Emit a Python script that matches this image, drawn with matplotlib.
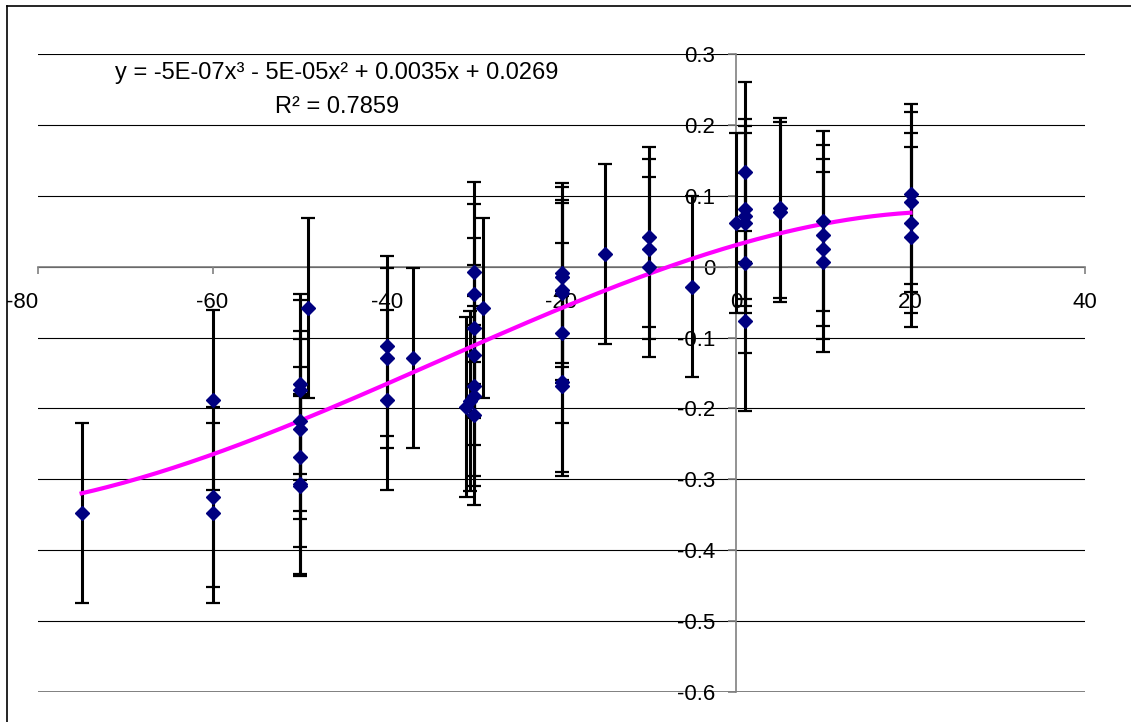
import matplotlib
matplotlib.use('Agg')
import matplotlib.pyplot as plt
from matplotlib.lines import Line2D
import numpy as np

plt.rcParams['font.family'] = ['Liberation Sans', 'DejaVu Sans']
plt.rcParams['axes.unicode_minus'] = False

# data
x = [-75,
     -60, -60, -60,
     -50, -50, -50, -50, -50, -50, -50,
     -49,
     -40, -40, -40,
     -37,
     -31, -30.5, -30, -30, -30, -30, -30, -30, -30,
     -29,
     -20, -20, -20, -20, -20, -20, -20,
     -15,
     -10, -10, -10,
     -5,
     0,
     1, 1, 1, 1, 1, 1,
     5, 5,
     10, 10, 10, 10,
     20, 20, 20, 20]
y = [-0.347,
     -0.188, -0.325, -0.347,
     -0.166, -0.174, -0.218, -0.229, -0.268, -0.306, -0.31,
     -0.058,
     -0.112, -0.129, -0.188,
     -0.129,
     -0.198, -0.19, -0.008, -0.038, -0.087, -0.125, -0.168, -0.183, -0.209,
     -0.058,
     -0.009, -0.014, -0.033, -0.037, -0.094, -0.162, -0.169,
     0.018,
     0.042, 0.025, -0.001,
     -0.028,
     0.061,
     0.133, 0.081, 0.071, 0.062, 0.005, -0.077,
     0.083, 0.077,
     0.064, 0.044, 0.025, 0.006,
     0.102, 0.091, 0.061, 0.042]
err = 0.127

# trendline as drawn in the picture
trend_x = [-75, -60, -50, -40, -30, -20, -10, 0, 10, 20]
trend_y = [-0.320, -0.264, -0.218, -0.164, -0.115, -0.055, -0.010, 0.029, 0.061, 0.076]

xticks = [-80, -60, -40, -20, 0, 20, 40]
yticks = [-0.6, -0.5, -0.4, -0.3, -0.2, -0.1, 0, 0.1, 0.2, 0.3]
ytick_labels = ['-0.6', '-0.5', '-0.4', '-0.3', '-0.2', '-0.1', '0', '0.1', '0.2', '0.3']
eq_line = 'y = -5E-07x\u00b3 - 5E-05x\u00b2 + 0.0035x + 0.0269'
r2_line = 'R\u00b2 = 0.7859'

W, H = 1131, 722
fig = plt.figure(figsize=(W / 100, H / 100), dpi=100)
ax = fig.add_axes([38 / W, 1 - 692 / H, (1085 - 38) / W, (692 - 54) / H])

ax.set_xlim(-80, 40)
ax.set_ylim(-0.6, 0.3)

# gridlines
for yt in yticks:
    c = '#808080' if yt == -0.6 else 'black'
    ax.axhline(yt, color=c, lw=0.8 if yt != -0.6 else 1.4, zorder=1)

ax.errorbar(x, y, yerr=err, fmt='none', ecolor='black', elinewidth=2.2,
            capsize=5, capthick=1.6, zorder=3)

coef = np.polyfit(trend_x, trend_y, 3)
xs = np.linspace(min(x), max(x), 200)
ax.plot(xs, np.polyval(coef, xs), color='#ff00ff', lw=3, zorder=4)

ax.plot(x, y, 'D', color='#000080', ms=7, mec='#000080', zorder=5, linestyle='none')

ax.spines['left'].set_position(('data', 0))
ax.spines['bottom'].set_position(('data', 0))
ax.spines['top'].set_visible(False)
ax.spines['right'].set_visible(False)
for s in ['left', 'bottom']:
    ax.spines[s].set_color('#808080')
    ax.spines[s].set_linewidth(1.2)
    ax.spines[s].set_zorder(2)

ax.set_xticks(xticks)
ax.set_xticklabels([str(v) for v in xticks])
ax.set_yticks(yticks)
ax.set_yticklabels(ytick_labels)
ax.tick_params(axis='x', direction='out', length=5, width=1.2, color='#808080',
               pad=13, labelsize=16)
ax.tick_params(axis='y', direction='out', length=6, width=1.2, color='#808080',
               pad=9, labelsize=16)
ax.get_xticklabels()[0].set_horizontalalignment('right')
ax.patch.set_alpha(0)

ax.text(337 / W, 1 - 73 / H, eq_line, transform=fig.transFigure, ha='center',
        va='center', fontsize=17)
ax.text(337 / W, 1 - 107 / H, r2_line, transform=fig.transFigure, ha='center',
        va='center', fontsize=17)

# chart border (top and left edges visible)
fig.add_artist(Line2D([7 / W, 1], [1 - 6 / H, 1 - 6 / H], color='black', lw=1.2,
                      transform=fig.transFigure))
fig.add_artist(Line2D([7 / W, 7 / W], [0, 1 - 6 / H], color='black', lw=1.2,
                      transform=fig.transFigure))

fig.savefig('out.png', dpi=100)
